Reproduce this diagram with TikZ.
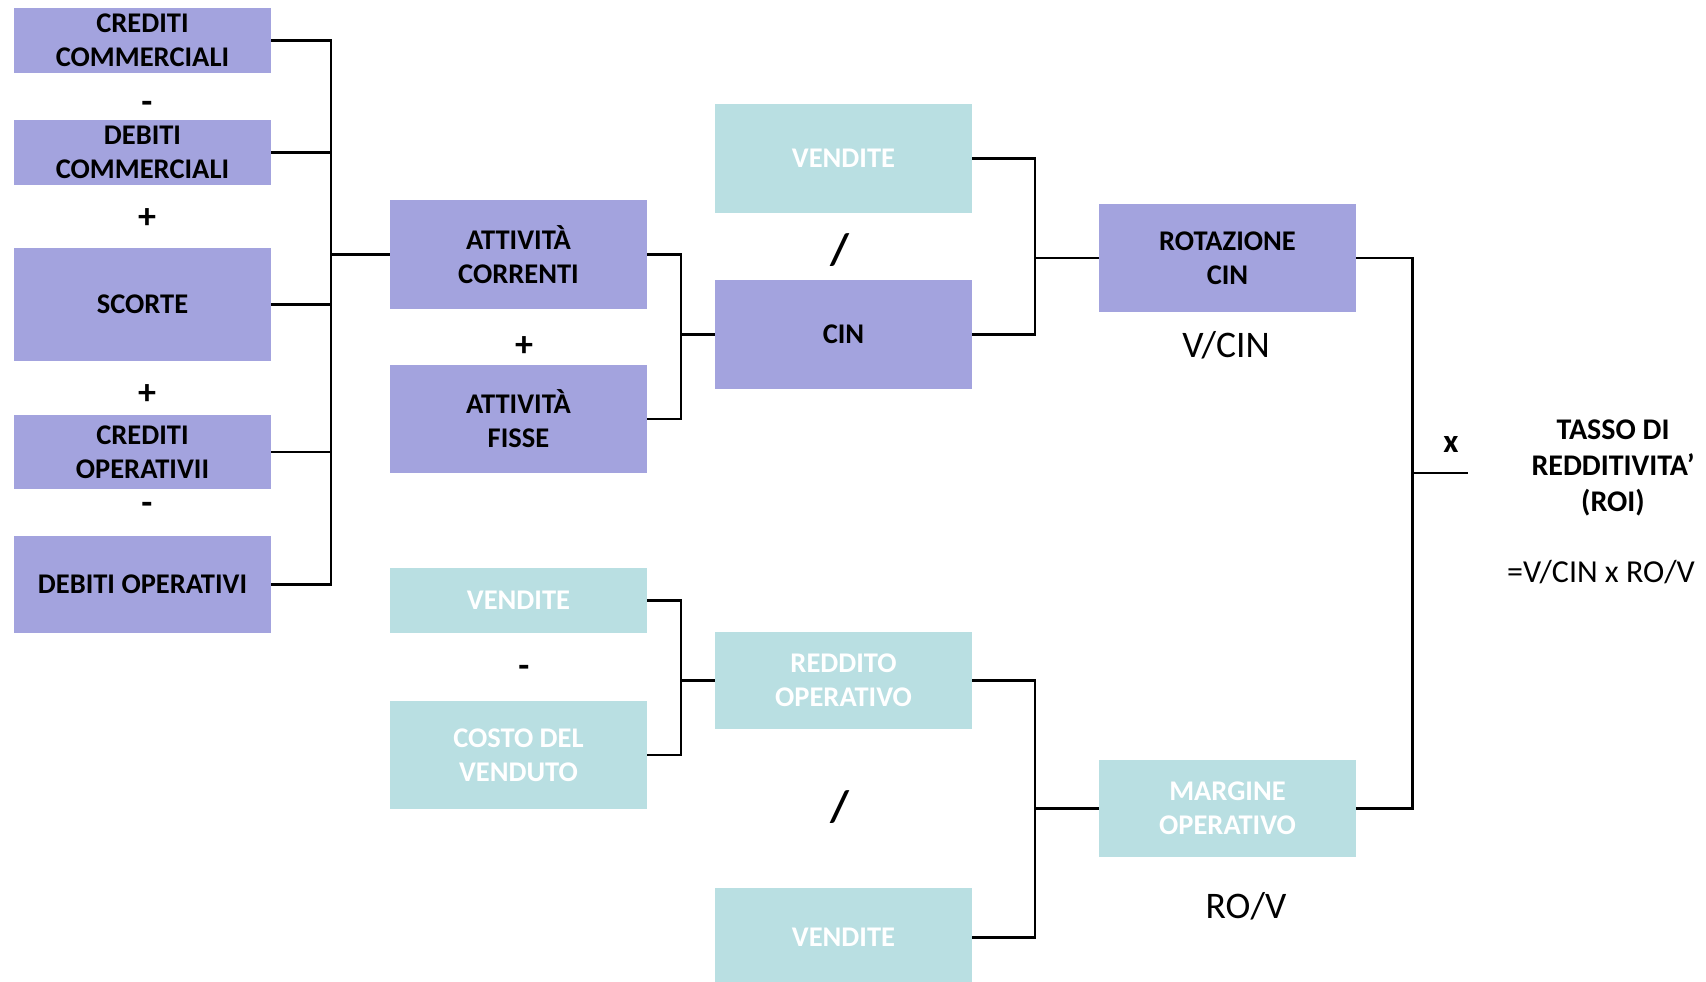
\documentclass[tikz,border=0pt]{standalone}
\usepackage{fontspec}
\setmainfont{Carlito}
\definecolor{lav}{HTML}{A3A3DE}
\definecolor{aqua}{HTML}{B9DFE2}
\begin{document}
\begin{tikzpicture}[x=1pt,y=-1pt,
  box/.style={rectangle, inner sep=0pt, outer sep=0pt, minimum width=257pt,
    align=center, font=\fontsize{28.5}{34}\selectfont\bfseries},
  lavbox/.style={box, fill=lav, text=black},
  aquabox/.style={box, fill=aqua, text=white},
  wire/.style={draw=black, line width=2.4pt, line join=miter},
  sign/.style={inner sep=0pt, font=\fontsize{36}{40}\selectfont\bfseries},
  slash/.style={inner sep=0pt, font=\fontsize{44}{48}\selectfont\bfseries},
  ratio/.style={inner sep=0pt, font=\fontsize{37.5}{44}\selectfont}]
\useasboundingbox (0,0) rectangle (1706,982);

% first column: components of the net working capital
\node[lavbox, minimum height=65pt]  (cc) at (142.5,40.5)  {CREDITI\\COMMERCIALI};
\node[lavbox, minimum height=65pt]  (dc) at (142.5,152.5) {DEBITI\\COMMERCIALI};
\node[lavbox, minimum height=113pt] (sc) at (142.5,304.5) {SCORTE};
\node[lavbox, minimum height=74pt]  (co) at (142.5,452)   {CREDITI\\OPERATIVII};
\node[lavbox, minimum height=97pt]  (do) at (142.5,584.5) {DEBITI OPERATIVI};
\node[sign] (s1) at (147,107) {-};
\node[sign] (s2) at (147,219) {+};
\node[sign] (s3) at (147,395) {+};
\node[sign] (s4) at (147,508) {-};

% second column
\node[lavbox, minimum height=109pt] (ac) at (518.5,254.5) {ATTIVITÀ\\CORRENTI};
\node[lavbox, minimum height=108pt] (af) at (518.5,419)   {ATTIVITÀ\\FISSE};
\node[sign] (s5) at (524,347) {+};
\node[aquabox, minimum height=65pt]  (v2) at (518.5,600.5) {VENDITE};
\node[aquabox, minimum height=108pt] (cv) at (518.5,755)   {COSTO DEL\\VENDUTO};
\node[sign] (s6) at (524,671) {-};

% third column
\node[aquabox, minimum height=109pt] (v1)  at (843.5,158.5) {VENDITE};
\node[lavbox,  minimum height=109pt] (cin) at (843.5,334.5) {CIN};
\node[slash] (d1) at (840,250) {/};
\node[aquabox, minimum height=97pt]  (ro)  at (843.5,680.5) {REDDITO\\OPERATIVO};
\node[aquabox, minimum height=99pt]  (v3)  at (843.5,937.5) {VENDITE};
\node[slash] (d2) at (840,807) {/};

% fourth column: the two ratios
\node[lavbox,  minimum height=108pt] (rot) at (1227.5,258)   {ROTAZIONE\\CIN};
\node[ratio] (r1) at (1226,345) {V/CIN};
\node[aquabox, minimum height=97pt]  (mo)  at (1227.5,808.5) {MARGINE\\OPERATIVO};
\node[ratio] (r2) at (1246,906) {RO/V};

% result
\node[sign, font=\fontsize{33}{40}\selectfont\bfseries] (times) at (1451,444) {x};
\node[inner sep=0pt, align=center, font=\fontsize{30}{36}\selectfont\bfseries]
  (roi) at (1613,468) {TASSO DI\\REDDITIVITA’\\(ROI)};
\node[inner sep=0pt, font=\fontsize{32}{38}\selectfont] (form) at (1601,572) {=V/CIN x RO/V};

% bracket junctions
\coordinate (b1) at (331,0);
\coordinate (b2) at (681,0);
\coordinate (b3) at (1035,0);
\coordinate (b6) at (1412.5,0);
\coordinate (xs) at (1468,472.7);

% connectors
\foreach \n in {cc,dc,sc,co,do}
  \draw[wire] (\n.east) -| (b1 |- ac.west) -- (ac.west);
\foreach \n in {ac,af}
  \draw[wire] (\n.east) -| (b2 |- cin.west) -- (cin.west);
\foreach \n in {v1,cin}
  \draw[wire] (\n.east) -| (b3 |- rot.west) -- (rot.west);
\foreach \n in {v2,cv}
  \draw[wire] (\n.east) -| (b2 |- ro.west) -- (ro.west);
\foreach \n in {ro,v3}
  \draw[wire] (\n.east) -| (b3 |- mo.west) -- (mo.west);
\draw[wire] (rot.east) -| (b6 |- mo.east) -- (mo.east);
\draw[wire] (b6 |- xs) -- (xs);
\end{tikzpicture}
\end{document}
